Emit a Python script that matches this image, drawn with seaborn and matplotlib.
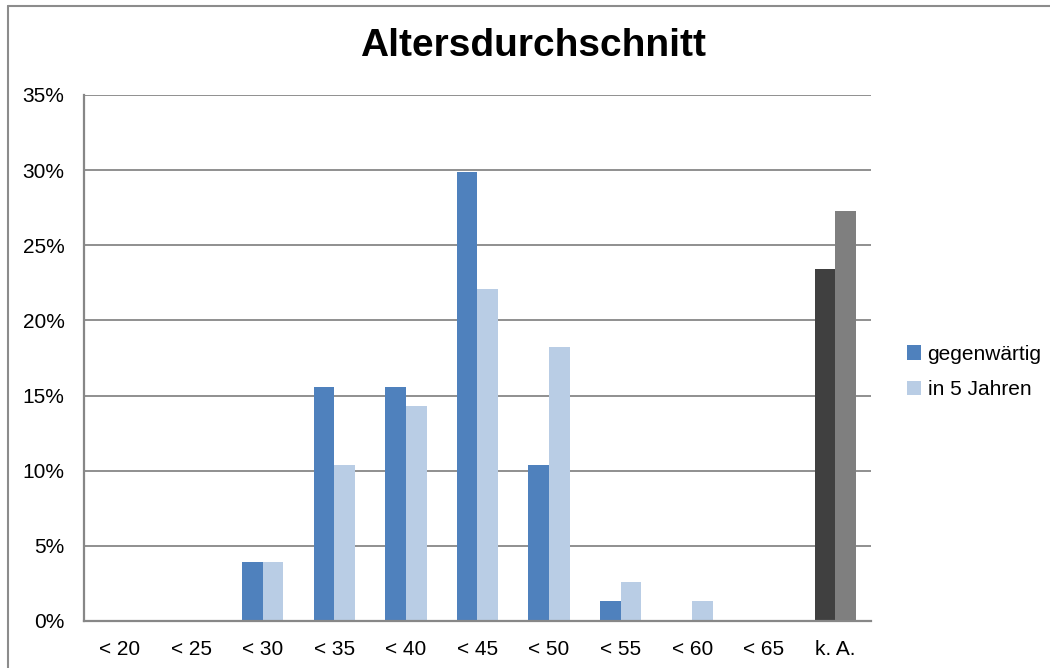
import matplotlib
matplotlib.use("Agg")
import matplotlib.pyplot as plt
import seaborn as sns
import pandas as pd
from matplotlib.patches import Patch
from matplotlib.lines import Line2D
from matplotlib.ticker import MultipleLocator, FuncFormatter

# Age brackets and shares (percent)
categories = ["< 20", "< 25", "< 30", "< 35", "< 40", "< 45", "< 50", "< 55", "< 60", "< 65", "k. A."]
current = [0.0, 0.0, 3.9, 15.6, 15.6, 29.9, 10.4, 1.3, 0.0, 0.0, 23.4]
in_five_years = [0.0, 0.0, 3.9, 10.4, 14.3, 22.1, 18.2, 2.6, 1.3, 0.0, 27.3]
series_names = ["gegenwärtig", "in 5 Jahren"]

sns.set_theme(style="white")
plt.rcParams["font.family"] = ["Liberation Sans", "DejaVu Sans"]
plt.rcParams["text.color"] = "black"

df = pd.DataFrame({
    "Alter": categories * 2,
    "Anteil": current + in_five_years,
    "Zeitpunkt": [series_names[0]] * len(categories) + [series_names[1]] * len(categories),
})

blue_dark = "#4F81BD"
blue_light = "#B9CDE5"
gray_dark = "#404040"
gray_light = "#7F7F7F"
grid_gray = "#878787"

fig = plt.figure(figsize=(10.5, 6.68), dpi=100)
ax = fig.add_axes([84 / 1050, 47 / 668, (871 - 84) / 1050, (621 - 95) / 668])

sns.barplot(data=df, x="Alter", y="Anteil", hue="Zeitpunkt", order=categories,
            hue_order=series_names, palette=[blue_dark, blue_light],
            width=0.575, linewidth=0, saturation=1, ax=ax, legend=False)

# "k. A." bars are shown in gray
ax.containers[0][len(categories) - 1].set_facecolor(gray_dark)
ax.containers[1][len(categories) - 1].set_facecolor(gray_light)

ax.set_ylim(0, 35)
ax.set_xlim(-0.5, len(categories) - 0.5)
ax.yaxis.set_major_locator(MultipleLocator(5))
ax.yaxis.set_major_formatter(FuncFormatter(lambda v, p: f"{v:.0f}%"))
ax.set_xlabel("")
ax.set_ylabel("")

ax.grid(axis="y", color=grid_gray, linewidth=1.3)
ax.set_axisbelow(True)
for side in ["top", "right"]:
    ax.spines[side].set_visible(False)
for side in ["left", "bottom"]:
    ax.spines[side].set_color(grid_gray)
    ax.spines[side].set_linewidth(1.6)
    ax.spines[side].set_zorder(5)

ax.tick_params(axis="both", length=0, labelsize=15, colors="black")
ax.tick_params(axis="y", pad=14)
ax.tick_params(axis="x", pad=14)

fig.suptitle("Altersdurchschnitt", x=533 / 1050, y=1 - 46 / 668, va="center",
             fontsize=28, fontweight="bold", color="black")

handles = [Patch(facecolor=blue_dark, edgecolor="none"),
           Patch(facecolor=blue_light, edgecolor="none")]
fig.legend(handles, series_names, loc="center left",
           bbox_to_anchor=(888 / 1050, 1 - 372 / 668), frameon=False,
           fontsize=15, handlelength=0.7, handleheight=0.7,
           handletextpad=0.3, labelspacing=0.8, labelcolor="black")

# Outer frame on the left and top edges
fig.add_artist(Line2D([8 / 1050, 8 / 1050], [0, 1 - 6 / 668], transform=fig.transFigure,
                      color="#8C8C8C", linewidth=1.5))
fig.add_artist(Line2D([8 / 1050, 1], [1 - 6 / 668, 1 - 6 / 668], transform=fig.transFigure,
                      color="#8C8C8C", linewidth=1.5))

fig.savefig("out.png", dpi=100, facecolor="white")
